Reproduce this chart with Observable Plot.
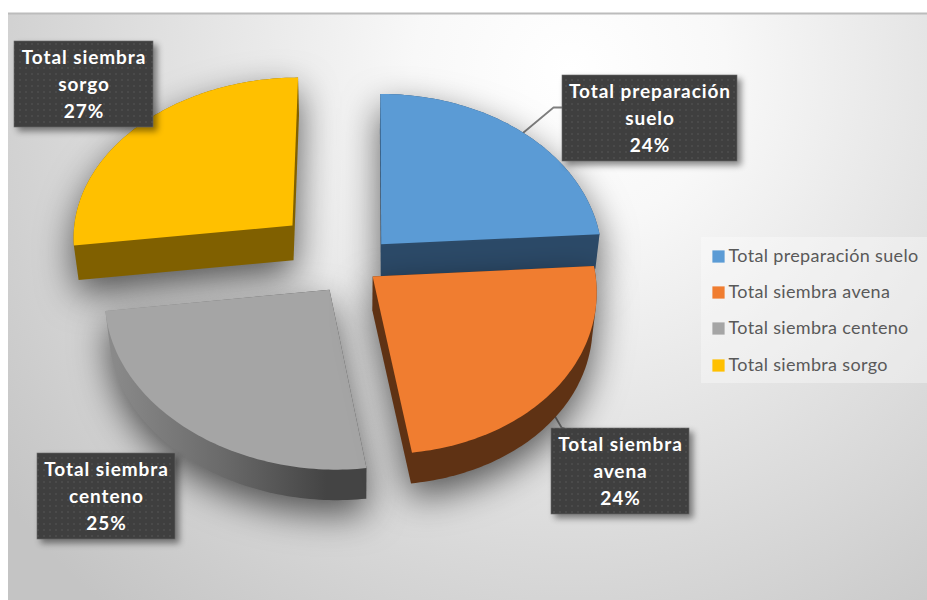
<!DOCTYPE html>
<html lang="es">
<head>
<meta charset="utf-8">
<title>Distribución de labores</title>
<script src="https://cdn.jsdelivr.net/npm/d3@7"></script>
<script src="https://cdn.jsdelivr.net/npm/@observablehq/plot@0.6"></script>
<style>
  html, body { margin: 0; padding: 0; background: #fff; }
  svg { display: block; }
  .callout-text text { letter-spacing: 0.92px; }
  .legend-text text { letter-spacing: 0.33px; }
</style>
</head>
<body>
<div id="chart"></div>
<script>
// Series
const categories = ["Total preparación suelo", "Total siembra avena", "Total siembra centeno", "Total siembra sorgo"];
const shares = [24, 24, 25, 27];
const explosion = [0.18, 0.104, 0.186, 0.375];
const calloutLines = [["Total preparación", "suelo"], ["Total siembra", "avena"], ["Total siembra", "centeno"], ["Total siembra", "sorgo"]];
const topColors = ["#5B9BD5", "#F07D30", "#A5A5A5", "#FFC000"];
const wallColors = ["#2C4A68", "#5F3214", "url(#centenoWall)", "#806000"];
const drawOrder = [3, 2, 0, 1];

// Callout boxes and legend rows, in SVG pixels
const calloutX1 = [562, 551, 37, 14];
const calloutX2 = [737, 689, 175, 153];
const calloutY1 = [75, 428, 453, 41];
const calloutY2 = [161, 514, 539, 127];
const legendY = [256, 292, 328, 365];

// Tilted, perspective view of the pie plane
const view = {cx: 354, cy: 265, a: 222, skew: -3.5, bow: 3.5, c: 163.7, persp: 0.07, depth: 34, shrink: 0.017};
function project(px, py, h = 0) {
  const w = 1 + view.persp * py;
  const s = 1 - view.shrink * h;
  return [
    view.cx + s * (view.a * px + view.skew * py + view.bow * py * py) / w,
    view.cy + s * (-view.c * py) / w + h * view.depth
  ];
}

const arcs = d3.pie().sort(null)(shares);
const mid = arcs.map((d) => (d.startAngle + d.endAngle) / 2);
const apex = arcs.map((d, i) => [explosion[i] * Math.sin(mid[i]), explosion[i] * Math.cos(mid[i])]);

function outline(i, h) {
  const {startAngle: t0, endAngle: t1} = arcs[i];
  const n = Math.ceil((t1 - t0) / 0.02);
  const pts = [project(apex[i][0], apex[i][1], h)];
  for (let k = 0; k <= n; ++k) {
    const t = t0 + (t1 - t0) * k / n;
    pts.push(project(apex[i][0] + Math.sin(t), apex[i][1] + Math.cos(t), h));
  }
  return pts;
}
function sliceRows(i) {
  const top = outline(i, 0);
  const hull = d3.polygonHull([...top, ...outline(i, 1)]);
  const rows = [];
  hull.forEach(([x, y]) => rows.push({x, y, part: "wall", fill: wallColors[i]}));
  top.forEach(([x, y]) => rows.push({x, y, part: "top", fill: topColors[i]}));
  return rows;
}

// Leader lines run from the rim of a slice to the edge of its callout
function leader(i, h, elbow, end) {
  const rim = project(apex[i][0] + Math.sin(mid[i]), apex[i][1] + Math.cos(mid[i]), h);
  return [rim, elbow, end].map(([x, y]) => ({x, y, id: i}));
}
const leaders = [
  ...leader(0, 0, [553, 107], [calloutX1[0], 107]),
  ...leader(1, 0.9, [561, 427], [564, calloutY1[1]])
];

const boxes = categories.map((name, i) => ({
  name, x1: calloutX1[i], x2: calloutX2[i], y1: calloutY1[i], y2: calloutY2[i],
  label: [...calloutLines[i], `${shares[i]}%`].join("\n"),
  cx: (calloutX1[i] + calloutX2[i]) / 2, cy: (calloutY1[i] + calloutY2[i]) / 2
}));
const legendRows = categories.map((name, i) => ({name, y: legendY[i], color: topColors[i]}));

// Gradients and the dotted callout texture live in one defs block
function defs() {
  const holder = document.createElementNS("http://www.w3.org/2000/svg", "g");
  holder.innerHTML = `<defs>
    <radialGradient id="paper" gradientUnits="userSpaceOnUse" cx="570" cy="70" r="710">
      <stop offset="0" stop-color="#ffffff"/>
      <stop offset="0.22" stop-color="#f8f8f8"/>
      <stop offset="1" stop-color="#c4c4c4"/>
    </radialGradient>
    <linearGradient id="centenoWall" gradientUnits="userSpaceOnUse" x1="105" y1="0" x2="365" y2="0">
      <stop offset="0" stop-color="#8c8c8c"/>
      <stop offset="0.45" stop-color="#6a6a6a"/>
      <stop offset="0.85" stop-color="#444444"/>
      <stop offset="1" stop-color="#444444"/>
    </linearGradient>
    <pattern id="dots" patternUnits="userSpaceOnUse" width="6" height="6">
      <rect width="6" height="6" fill="#3f3f3f"/>
      <rect x="1" y="1" width="2" height="2" fill="#4a4a4a"/>
    </pattern>
  </defs>`;
  return holder;
}

const boxFont = "Lato, 'Open Sans', sans-serif";
const softShadow = "drop-shadow(0px 14px 18px rgba(0,0,0,0.62))";

const plot = Plot.plot({
  width: 927,
  height: 600,
  margin: 0,
  x: {domain: [0, 927], range: [0, 927], axis: null},
  y: {domain: [0, 600], range: [0, 600], axis: null},
  marks: [
    defs,
    Plot.rect([{x1: 8, x2: 927, y1: 13, y2: 600}], {x1: "x1", x2: "x2", y1: "y1", y2: "y2", fill: "url(#paper)"}),
    Plot.ruleY([13], {x1: 8, x2: 927, stroke: "#bcbcbc", strokeWidth: 2}),
    Plot.rect([{x1: 701, x2: 927, y1: 237, y2: 383}], {x1: "x1", x2: "x2", y1: "y1", y2: "y2", fill: "#ffffff", fillOpacity: 0.35}),
    Plot.line(leaders, {x: "x", y: "y", z: "id", stroke: "#7f7f7f", strokeWidth: 1.8, curve: "linear"}),
    ...drawOrder.map((i) =>
      Plot.line(sliceRows(i), {
        x: "x", y: "y", z: "part",
        fill: {value: "fill", scale: null},
        stroke: null,
        curve: "linear",
        imageFilter: softShadow
      })
    ),
    Plot.rect(boxes, {
      x1: "x1", x2: "x2", y1: "y1", y2: "y2",
      fill: "url(#dots)", stroke: "#6a6a6a", strokeWidth: 0.6,
      imageFilter: "drop-shadow(4px 4px 3px rgba(0,0,0,0.45))"
    }),
    Plot.text(boxes, {
      x: "cx", y: "cy", dy: -2, text: "label", className: "callout-text",
      fill: "#ffffff", fontFamily: boxFont, fontWeight: 700, fontSize: 19, lineHeight: 1.4
    }),
    Plot.dot(legendRows, {x: 718, y: "y", symbol: "square", r: 6.9, fill: "color", stroke: null}),
    Plot.text(legendRows, {
      x: 728, y: "y", text: "name", textAnchor: "start", className: "legend-text",
      fill: "#595959", fontFamily: boxFont, fontSize: 18
    })
  ]
});
document.getElementById("chart").append(plot);
</script>
</body>
</html>
